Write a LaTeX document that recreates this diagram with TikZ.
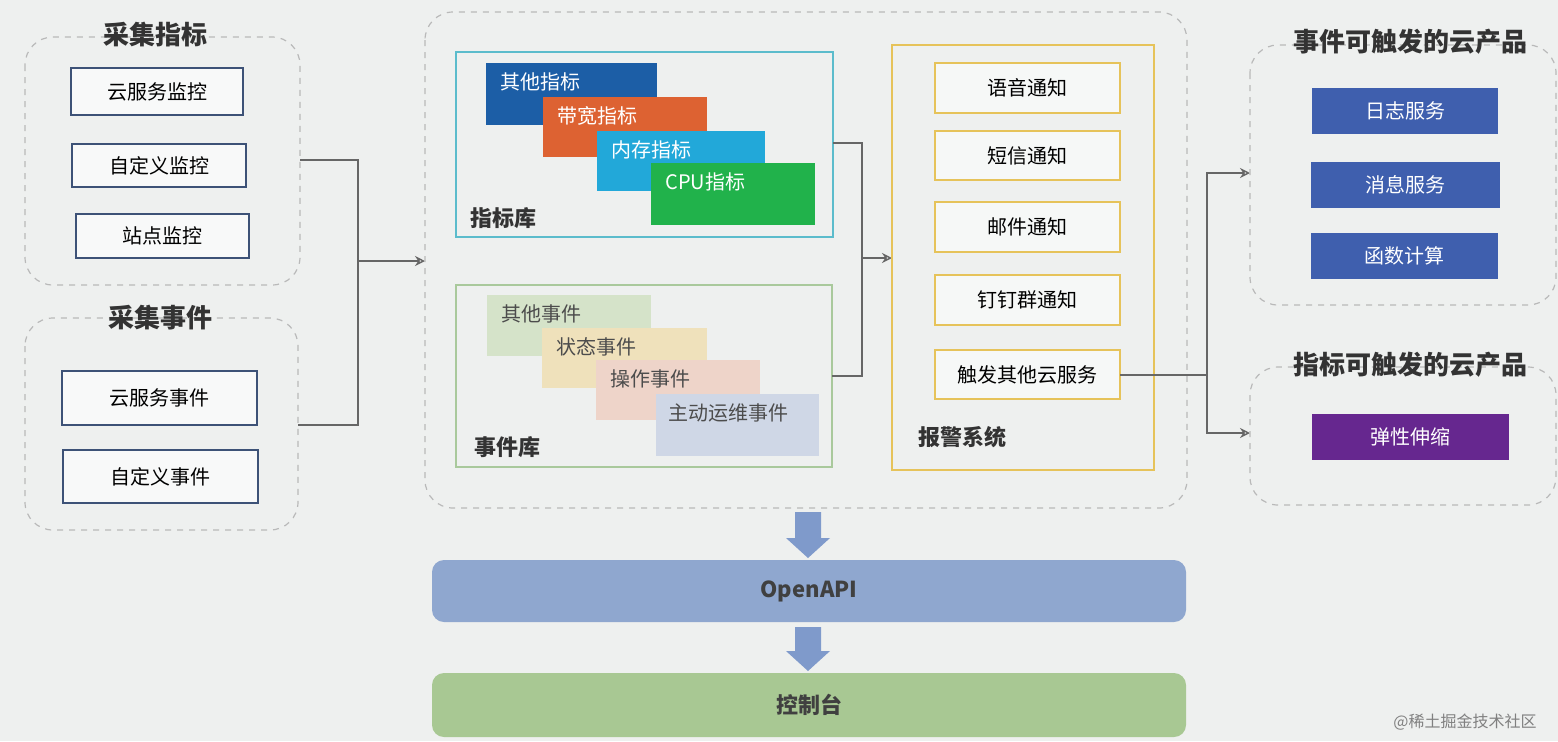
\documentclass[tikz,border=0pt]{standalone}
\usepackage{fontspec}
\setmainfont{Noto Sans CJK SC}
\usetikzlibrary{arrows.meta}
\definecolor{bg}{HTML}{EEF0EF}
\definecolor{lbd}{HTML}{3D5277}
\definecolor{gld}{HTML}{E6C35A}
\definecolor{cyb}{HTML}{5BBCCC}
\definecolor{grb}{HTML}{A9C99C}
\definecolor{bl}{HTML}{3F5FAE}
\definecolor{vi}{HTML}{66278F}
\definecolor{k1c}{HTML}{1C5EA6}
\definecolor{k2c}{HTML}{DD6232}
\definecolor{k3c}{HTML}{22A8D9}
\definecolor{k4c}{HTML}{21B24B}
\definecolor{e1c}{HTML}{D5E3C9}
\definecolor{e2c}{HTML}{EFE1BB}
\definecolor{e3c}{HTML}{EED4C9}
\definecolor{e4c}{HTML}{CFD7E6}
\definecolor{apic}{HTML}{8FA7CF}
\definecolor{ctlc}{HTML}{A8C893}
\definecolor{arc}{HTML}{7F9ACB}
\begin{document}
\begin{tikzpicture}[x=0.5pt,y=-0.5pt,
  grp/.style={draw=gray!55,dashed,rounded corners=14pt,line width=0.6pt},
  ttl/.style={font=\bfseries\fontsize{13}{15}\selectfont,text=black!80},
  lbox/.style={draw=lbd,fill=white!60!bg,line width=0.6pt,font=\fontsize{10}{12}\selectfont},
  cbox/.style={inner sep=0pt,font=\fontsize{10}{12}\selectfont},
  gbox/.style={draw=gld,fill=white!50!bg,line width=0.6pt,font=\fontsize{10}{12}\selectfont},
  bbox/.style={fill=#1,text=white,font=\fontsize{10}{12}\selectfont},
  con/.style={draw=black!60,line width=0.7pt},
  arr/.style={con,-{Stealth[length=5pt,width=5pt,open]}},
  big/.style={fill=#1,rounded corners=6pt,font=\bfseries\fontsize{11}{13}\selectfont,text=black!75},
  darr/.style={fill=arc,draw=none}]
\fill[bg] (0,0) rectangle (1558,741);
\useasboundingbox (0,0) rectangle (1558,741);
% left groups
\draw[grp] (25,37) rectangle (300,285);
\node[ttl] (t1) at (155,35) {采集指标};
\draw[lbox] (71,68) rectangle node (a1) {云服务监控} (243,115);
\draw[lbox] (72,144) rectangle node (a2) {自定义监控} (246,187);
\draw[lbox] (76,214) rectangle node (a3) {站点监控} (249,258);
\draw[grp] (25,318) rectangle (298,530);
\node[ttl] (t2) at (160,318) {采集事件};
\draw[lbox] (62,371) rectangle node (a4) {云服务事件} (257,425);
\draw[lbox] (63,450) rectangle node (a5) {自定义事件} (258,503);
\coordinate (g1) at (300,160); \coordinate (g2) at (298,425);
\coordinate (j1) at (358,261); \coordinate (m1) at (425,261);
\draw[con] (g1) -| (j1); \draw[con] (g2) -| (j1);
\draw[arr] (j1) -- (m1);
% middle
\draw[grp] (425,12) rectangle (1187,508);
\draw[draw=cyb,line width=0.8pt] (456,52) rectangle (833,237);
\node[ttl,font=\bfseries\fontsize{11}{13}\selectfont] (zb) at (503,218) {指标库};
\fill[k1c] (486,63) rectangle (657,125); \node[cbox,anchor=north west,text=white] (k1) at (500,72) {其他指标};
\fill[k2c] (543,97) rectangle (707,157); \node[cbox,anchor=north west,text=white] (k2) at (557,106) {带宽指标};
\fill[k3c] (597,131) rectangle (765,191); \node[cbox,anchor=north west,text=white] (k3) at (611,140) {内存指标};
\fill[k4c] (651,163) rectangle (815,225); \node[cbox,anchor=north west,text=white] (k4) at (665,172) {CPU指标};
\draw[draw=grb,line width=0.8pt] (456,285) rectangle (832,467);
\node[ttl,font=\bfseries\fontsize{11}{13}\selectfont] (sj) at (507,447) {事件库};
\fill[e1c] (487,295) rectangle (651,356); \node[cbox,anchor=north west,text=black!70] (e1) at (501,304) {其他事件};
\fill[e2c] (542,328) rectangle (707,388); \node[cbox,anchor=north west,text=black!70] (e2) at (556,337) {状态事件};
\fill[e3c] (596,360) rectangle (760,420); \node[cbox,anchor=north west,text=black!70] (e3) at (610,369) {操作事件};
\fill[e4c] (656,394) rectangle (819,456); \node[cbox,anchor=north west,text=black!70] (e4) at (668,403) {主动运维事件};
\coordinate (z1) at (833,143); \coordinate (z2) at (832,376);
\coordinate (j2) at (862,258); \coordinate (bj) at (892,258);
\draw[con] (z1) -| (j2); \draw[con] (z2) -| (j2);
\draw[arr] (j2) -- (bj);
\draw[draw=gld,line width=0.8pt] (892,45) rectangle (1154,470);
\node[ttl,font=\bfseries\fontsize{11}{13}\selectfont] (bjx) at (962,437) {报警系统};
\draw[gbox] (935,63) rectangle node (n1) {语音通知} (1120,113);
\draw[gbox] (935,131) rectangle node (n2) {短信通知} (1120,180);
\draw[gbox] (935,202) rectangle node (n3) {邮件通知} (1120,252);
\draw[gbox] (935,275) rectangle node (n4) {钉钉群通知} (1120,325);
\draw[gbox] (935,350) rectangle node (n5) {触发其他云服务} (1120,399);
\coordinate (o1) at (1120,375); \coordinate (j3) at (1207,375);
\coordinate (r1) at (1250,173); \coordinate (r2) at (1250,433);
\draw[con] (o1) -- (j3);
\draw[arr] (j3) |- (r1); \draw[arr] (j3) |- (r2);
% right
\draw[grp] (1250,45) rectangle (1556,305);
\node[ttl] (t3) at (1410,42) {事件可触发的云产品};
\node[bbox=bl,minimum width=93pt,minimum height=23pt] (p1) at (1405,111) {日志服务};
\node[bbox=bl,minimum width=94.5pt,minimum height=23pt] (p2) at (1405.5,185) {消息服务};
\node[bbox=bl,minimum width=93.5pt,minimum height=23pt] (p3) at (1404.5,256) {函数计算};
\draw[grp] (1250,367) rectangle (1556,505);
\node[ttl] (t4) at (1410,365) {指标可触发的云产品};
\node[bbox=vi,minimum width=98.5pt,minimum height=23pt] (p4) at (1410.5,437) {弹性伸缩};
% bottom
\fill[darr] (795,512) -- (821,512) -- (821,538) -- (830,538) -- (808,558) -- (786,538) -- (795,538) -- cycle;
\node[big=apic,minimum width=377pt,minimum height=31pt] (api) at (809,591) {OpenAPI};
\fill[darr] (795,627) -- (821,627) -- (821,651) -- (830,651) -- (808,671) -- (786,651) -- (795,651) -- cycle;
\node[big=ctlc,minimum width=377pt,minimum height=32pt] (ctl) at (809,705) {控制台};
\node[text=gray,font=\fontsize{8}{10}\selectfont] (wm) at (1465,722) {@稀土掘金技术社区};
\end{tikzpicture}
\end{document}
